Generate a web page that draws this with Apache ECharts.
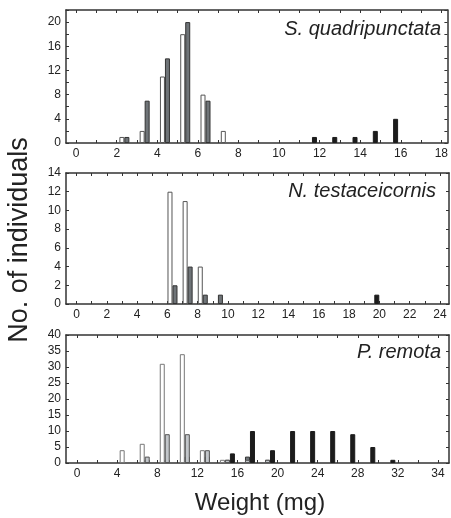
<!DOCTYPE html>
<html>
<head>
<meta charset="utf-8">
<script src="https://cdn.jsdelivr.net/npm/echarts@6/dist/echarts.min.js"></script>
<style>
html, body { margin: 0; padding: 0; background: #fff; }
#charts_main { width: 451px; height: 518px; }
</style>
</head>
<body>
<div id="charts_main"></div>
<script>
// S. quadripunctata, 1 mg bins (bin centres)
const sqBins  = [2.5, 3.5, 4.5, 5.5, 6.5, 7.5, 11.5, 12.5, 13.5, 14.5, 15.5];
const sqWhite = [1, 2, 11, 18, 8, 2, 0, 0, 0, 0, 0];
const sqGrey  = [1, 7, 14, 20, 7, 0, 0, 0, 0, 0, 0];
const sqBlack = [0, 0, 0, 0, 0, 0, 1, 1, 1, 2, 4];

// N. testaceicornis, 1 mg bins
const ntBins  = [6.5, 7.5, 8.5, 9.5, 19.5];
const ntWhite = [12, 11, 4, 0, 0];
const ntGrey  = [2, 4, 1, 1, 0];
const ntBlack = [0, 0, 0, 0, 1];

// P. remota, 2 mg bins
const prBins      = [5, 7, 9, 11, 13, 15, 17, 19, 21, 23, 25, 27, 29, 31];
const prWhite     = [4, 6, 31, 34, 4, 1, 0, 0, 0, 0, 0, 0, 0, 0];
const prGreyTotal = [0, 3, 10, 11, 6, 2, 3, 2, 0, 0, 0, 0, 0, 0];
const prGreyDark  = [0, 1, 1, 2, 2, 1, 2, 1, 0, 0, 0, 0, 0, 0];
const prBlack     = [0, 0, 0, 0, 0, 3, 10, 4, 10, 10, 10, 9, 5, 1];

// tick positions and labels
const sqTicks  = [0, 1, 2, 3, 4, 5, 6, 7, 8, 9, 10, 11, 12, 13, 14, 15, 16, 17, 18];
const sqLabels = [0, 2, 4, 6, 8, 10, 12, 14, 16, 18];
const ntTicks  = [0, 1, 2, 3, 4, 5, 6, 7, 8, 9, 10, 11, 12, 13, 14, 15, 16, 17, 18, 19, 20, 21, 22, 23, 24];
const ntLabels = [0, 2, 4, 6, 8, 10, 12, 14, 16, 18, 20, 22, 24];
const prTicks  = [0, 2, 4, 6, 8, 10, 12, 14, 16, 18, 20, 22, 24, 26, 28, 30, 32, 34, 36];
const prLabels = [0, 4, 8, 12, 16, 20, 24, 28, 32, 36];
// the last label of the bottom panel reads "34" in the figure
const prLabelText = ['0', '4', '8', '12', '16', '20', '24', '28', '32', '34'];

const titles = ['S. quadripunctata', 'N. testaceicornis', 'P. remota'];

const FONT = 'Liberation Sans, Arial, sans-serif';
const LINE = '#333';

function pairs(xs, ys) {
  let out = [];
  for (let i = 0; i < xs.length; i++) {
    if (ys[i] > 0) out.push([xs[i], ys[i]]);
  }
  return out;
}

function diff(a, b) {
  return a.map((v, i) => v - b[i]);
}

function xPair(gi, min, max, ticks, labels, texts) {
  let base = {
    type: 'value', gridIndex: gi, min: min, max: max,
    splitLine: {show: false},
    axisLine: {onZero: false, lineStyle: {color: LINE, width: 1.5}},
    axisTick: {inside: true, length: 3, customValues: ticks, lineStyle: {color: LINE}}
  };
  return [
    Object.assign({}, base, {
      position: 'bottom',
      axisLabel: {
        customValues: labels, color: '#222', fontSize: 12, margin: 5, fontFamily: FONT,
        formatter: v => {
          let k = labels.indexOf(v);
          return texts && k >= 0 ? texts[k] : String(v);
        }
      }
    }),
    Object.assign({}, base, {position: 'top', axisLabel: {show: false}})
  ];
}

function yPair(gi, max, step, labelStep) {
  let base = {
    type: 'value', gridIndex: gi, min: 0, max: max, interval: step,
    splitLine: {show: false},
    axisLine: {onZero: false, lineStyle: {color: LINE, width: 1.5}},
    axisTick: {inside: true, length: 3, lineStyle: {color: LINE}}
  };
  return [
    Object.assign({}, base, {
      position: 'left',
      axisLabel: {
        color: '#222', fontSize: 12, margin: 5, fontFamily: FONT,
        formatter: v => (v % labelStep === 0 ? String(v) : '')
      }
    }),
    Object.assign({}, base, {position: 'right', axisLabel: {show: false}})
  ];
}

function bar(gi, stack, data, color, border) {
  return {
    type: 'bar', xAxisIndex: gi * 2, yAxisIndex: gi * 2, stack: stack,
    barWidth: 5, barGap: '0%',
    itemStyle: {color: color, borderColor: border, borderWidth: 1},
    data: data
  };
}

function init() {
  let Chart = echarts.init(document.getElementById('charts_main'));

  let option = {
    animation: false,
    grid: [
      {left: 66, top: 10, width: 383, height: 133},
      {left: 66, top: 173, width: 383, height: 131},
      {left: 66, top: 335, width: 383, height: 128}
    ],
    xAxis: [].concat(
      xPair(0, -0.5, 18.3, sqTicks, sqLabels),
      xPair(1, -0.7, 24.6, ntTicks, ntLabels),
      xPair(2, -1.1, 37.1, prTicks, prLabels, prLabelText)
    ),
    yAxis: [].concat(
      yPair(0, 22, 2, 4),
      yPair(1, 14, 2, 2),
      yPair(2, 40, 5, 5)
    ),
    title: titles.map((t, i) => ({
      text: t,
      right: [10, 15, 10][i],
      top: [19, 181, 342][i],
      padding: 0,
      textStyle: {fontSize: 20, fontStyle: 'italic', fontWeight: 'normal', color: '#222', fontFamily: FONT}
    })),
    graphic: [
      {
        type: 'text', x: 20, y: 240, rotation: Math.PI / 2,
        style: {text: 'No. of individuals', fontSize: 27, fontFamily: FONT, fill: '#222', align: 'center', verticalAlign: 'middle'}
      },
      {
        type: 'text', x: 260, y: 503,
        style: {text: 'Weight (mg)', fontSize: 24, fontFamily: FONT, fill: '#222', align: 'center', verticalAlign: 'middle'}
      }
    ],
    series: [
      bar(0, 'w', pairs(sqBins, sqWhite), '#ffffff', '#555'),
      bar(0, 'g', pairs(sqBins, sqGrey), '#6f7478', '#333'),
      bar(0, 'b', pairs(sqBins, sqBlack), '#1c1c1c', '#1c1c1c'),

      bar(1, 'w', pairs(ntBins, ntWhite), '#ffffff', '#555'),
      bar(1, 'g', pairs(ntBins, ntGrey), '#6f7478', '#333'),
      bar(1, 'b', pairs(ntBins, ntBlack), '#1c1c1c', '#1c1c1c'),

      bar(2, 'w', pairs(prBins, prWhite), '#ffffff', '#777'),
      bar(2, 'g', pairs(prBins, prGreyDark), '#6f7478', '#333'),
      bar(2, 'g', pairs(prBins, diff(prGreyTotal, prGreyDark)), '#c2c6ca', '#555'),
      bar(2, 'b', pairs(prBins, prBlack), '#1c1c1c', '#1c1c1c')
    ]
  };
  Chart.setOption(option);
}

init();
</script>
</body>
</html>
